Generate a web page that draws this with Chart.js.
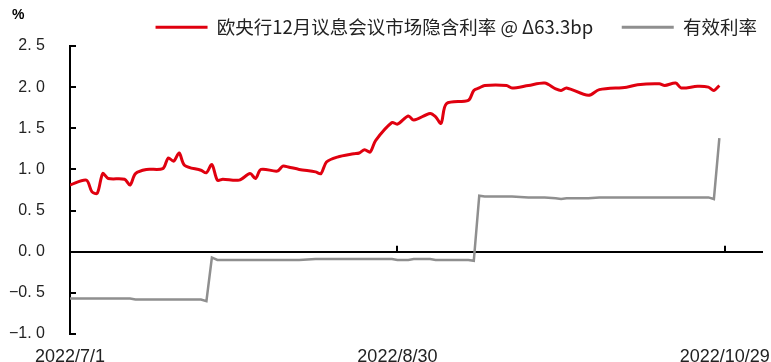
<!DOCTYPE html>
<html><head><meta charset="utf-8">
<script src="https://cdn.jsdelivr.net/npm/chart.js@4/dist/chart.umd.min.js"></script>
<style>html,body{margin:0;padding:0;background:#fff;overflow:hidden}canvas{display:block}</style>
</head><body>
<canvas id="c" width="771" height="362"></canvas>
<script>
const dates = ['2022/7/1','2022/7/4','2022/7/5','2022/7/6','2022/7/7','2022/7/8','2022/7/11','2022/7/12','2022/7/13','2022/7/15',
 '2022/7/18','2022/7/19','2022/7/20','2022/7/21','2022/7/22','2022/7/25','2022/7/26','2022/7/27','2022/7/28','2022/7/29',
 '2022/8/1','2022/8/3','2022/8/4','2022/8/5','2022/8/8','2022/8/9','2022/8/10','2022/8/12','2022/8/15','2022/8/16',
 '2022/8/17','2022/8/19','2022/8/22','2022/8/23','2022/8/24','2022/8/25','2022/8/26','2022/8/29','2022/8/30','2022/9/1',
 '2022/9/2','2022/9/5','2022/9/6','2022/9/7','2022/9/8','2022/9/12','2022/9/13','2022/9/14','2022/9/15','2022/9/19',
 '2022/9/20','2022/9/23','2022/9/26','2022/9/28','2022/9/29','2022/9/30','2022/10/4','2022/10/6','2022/10/11','2022/10/13',
 '2022/10/17','2022/10/18','2022/10/20','2022/10/21','2022/10/24','2022/10/26','2022/10/27','2022/10/28'];
const impliedRate = [0.81,0.87,0.73,0.71,0.95,0.89,0.88,0.81,0.95,1.00,
 1.01,1.14,1.10,1.20,1.05,0.99,0.96,1.06,0.87,0.88,
 0.87,0.95,0.89,1.00,0.98,1.04,1.03,1.00,0.97,0.95,
 1.09,1.15,1.19,1.20,1.24,1.21,1.35,1.57,1.55,1.65,
 1.60,1.68,1.64,1.56,1.80,1.84,1.96,1.99,2.02,2.02,
 1.99,2.02,2.05,1.98,1.96,1.99,1.90,1.97,2.00,2.03,
 2.04,2.02,2.05,1.99,2.01,2.00,1.96,2.02];
const effectiveRate = [-0.57,-0.57,-0.57,-0.57,-0.57,-0.57,-0.57,-0.57,-0.58,-0.58,
 -0.58,-0.58,-0.58,-0.58,-0.58,-0.58,-0.60,-0.07,-0.10,-0.10,
 -0.10,-0.10,-0.10,-0.10,-0.10,-0.10,-0.10,-0.10,-0.09,-0.09,
 -0.09,-0.09,-0.09,-0.09,-0.09,-0.09,-0.09,-0.09,-0.10,-0.10,
 -0.09,-0.09,-0.10,-0.10,-0.10,-0.10,-0.11,0.68,0.67,0.67,
 0.67,0.66,0.66,0.65,0.64,0.65,0.65,0.66,0.66,0.66,
 0.66,0.66,0.66,0.66,0.66,0.66,0.64,1.38];
const seriesNames = ['欧央行12月议息会议市场隐含利率 @ Δ63.3bp','有效利率'];
const xTickLabels = ['2022/7/1','2022/8/30','2022/10/29'];
const xAxisEnd = '2022/11/5';
const yTickValues = [-1,-0.5,0,0.5,1,1.5,2,2.5];
const yUnit = '%';

function dayOf(s){const p=s.split('/').map(Number);return Math.round((Date.UTC(p[0],p[1]-1,p[2])-Date.UTC(2022,6,1))/86400000);}
function labelOf(d){const t=new Date(Date.UTC(2022,6,1)+d*86400000);return t.getUTCFullYear()+'/'+(t.getUTCMonth()+1)+'/'+t.getUTCDate();}
const xs = dates.map(dayOf);
const tickDays = xTickLabels.map(dayOf);

const innerTicks = {
  id:'innerTicks',
  beforeUpdate(chart){
    const lg=chart.legend;
    if(lg && !lg._fixH){const f=lg.fit.bind(lg);lg.fit=function(){f();this.height=34;};lg._fixH=true;}
  },
  afterDraw(chart){
    const ctx=chart.ctx, y=chart.scales.y, x=chart.scales.x, a=chart.chartArea;
    ctx.save();
    ctx.strokeStyle='#000'; ctx.lineWidth=2;
    yTickValues.forEach(v=>{const py=Math.round(y.getPixelForValue(v));ctx.beginPath();ctx.moveTo(a.left,py);ctx.lineTo(a.left+6,py);ctx.stroke();});
    const zy=y.getPixelForValue(0);
    tickDays.slice(1).forEach(d=>{const px=Math.round(x.getPixelForValue(d));ctx.beginPath();ctx.moveTo(px,zy);ctx.lineTo(px,zy-6);ctx.stroke();});
    ctx.fillStyle='#000'; ctx.font='bold 14px "Liberation Sans"'; ctx.textBaseline='middle'; ctx.textAlign='left';
    ctx.fillText(yUnit,12,15);
    ctx.restore();
  }
};

new Chart(document.getElementById('c'),{
  type:'line',
  data:{datasets:[
    {label:seriesNames[0],data:xs.map((x,i)=>({x,y:impliedRate[i]})),borderColor:'#E0000F',backgroundColor:'#E0000F',borderWidth:3,pointRadius:0,tension:0.3},
    {label:seriesNames[1],data:xs.map((x,i)=>({x,y:effectiveRate[i]})),borderColor:'#8F8F8F',backgroundColor:'#8F8F8F',borderWidth:2.5,pointRadius:0,tension:0}
  ]},
  options:{
    responsive:false,animation:false,devicePixelRatio:1,
    layout:{padding:{top:12,right:8,left:0,bottom:0}},
    plugins:{
      tooltip:{enabled:false},
      legend:{position:'top',align:'end',
        labels:{boxWidth:52,boxHeight:3,padding:6,color:'#222',font:{family:'"Noto Sans CJK SC"',size:18.5},
          generateLabels(chart){return Chart.defaults.plugins.legend.labels.generateLabels(chart).map((l,i)=>Object.assign(l,{fillStyle:l.strokeStyle,lineWidth:0,text:i===0?l.text+' \u3000':l.text}));}}}
    },
    scales:{
      x:{type:'linear',min:0,max:dayOf(xAxisEnd),
        afterBuildTicks(s){s.ticks=tickDays.map(v=>({value:v}));},
        afterFit(s){s.height=28;s.paddingLeft=0;s.paddingRight=0;},
        grid:{display:false},border:{display:false},
        ticks:{padding:4,maxRotation:0,autoSkip:false,color:'#222',font:{family:'"Liberation Sans"',size:18},callback:v=>labelOf(v)}},
      y:{min:-1,max:2.5,
        afterBuildTicks(s){s.ticks=yTickValues.map(v=>({value:v}));},
        afterFit(s){s.width=70;s.paddingTop=8;s.paddingBottom=8;},
        border:{display:true,color:'#000',width:2},
        grid:{drawTicks:false,color:c=>c.tick&&c.tick.value===0?'#000':'rgba(0,0,0,0)',lineWidth:2},
        ticks:{padding:25,color:'#222',font:{family:'"Liberation Sans"',size:16},callback:v=>(v<0?'\u2212':'')+Math.abs(v).toFixed(1).replace('.','. ')}}
    }
  },
  plugins:[innerTicks]
});
</script>
</body></html>
